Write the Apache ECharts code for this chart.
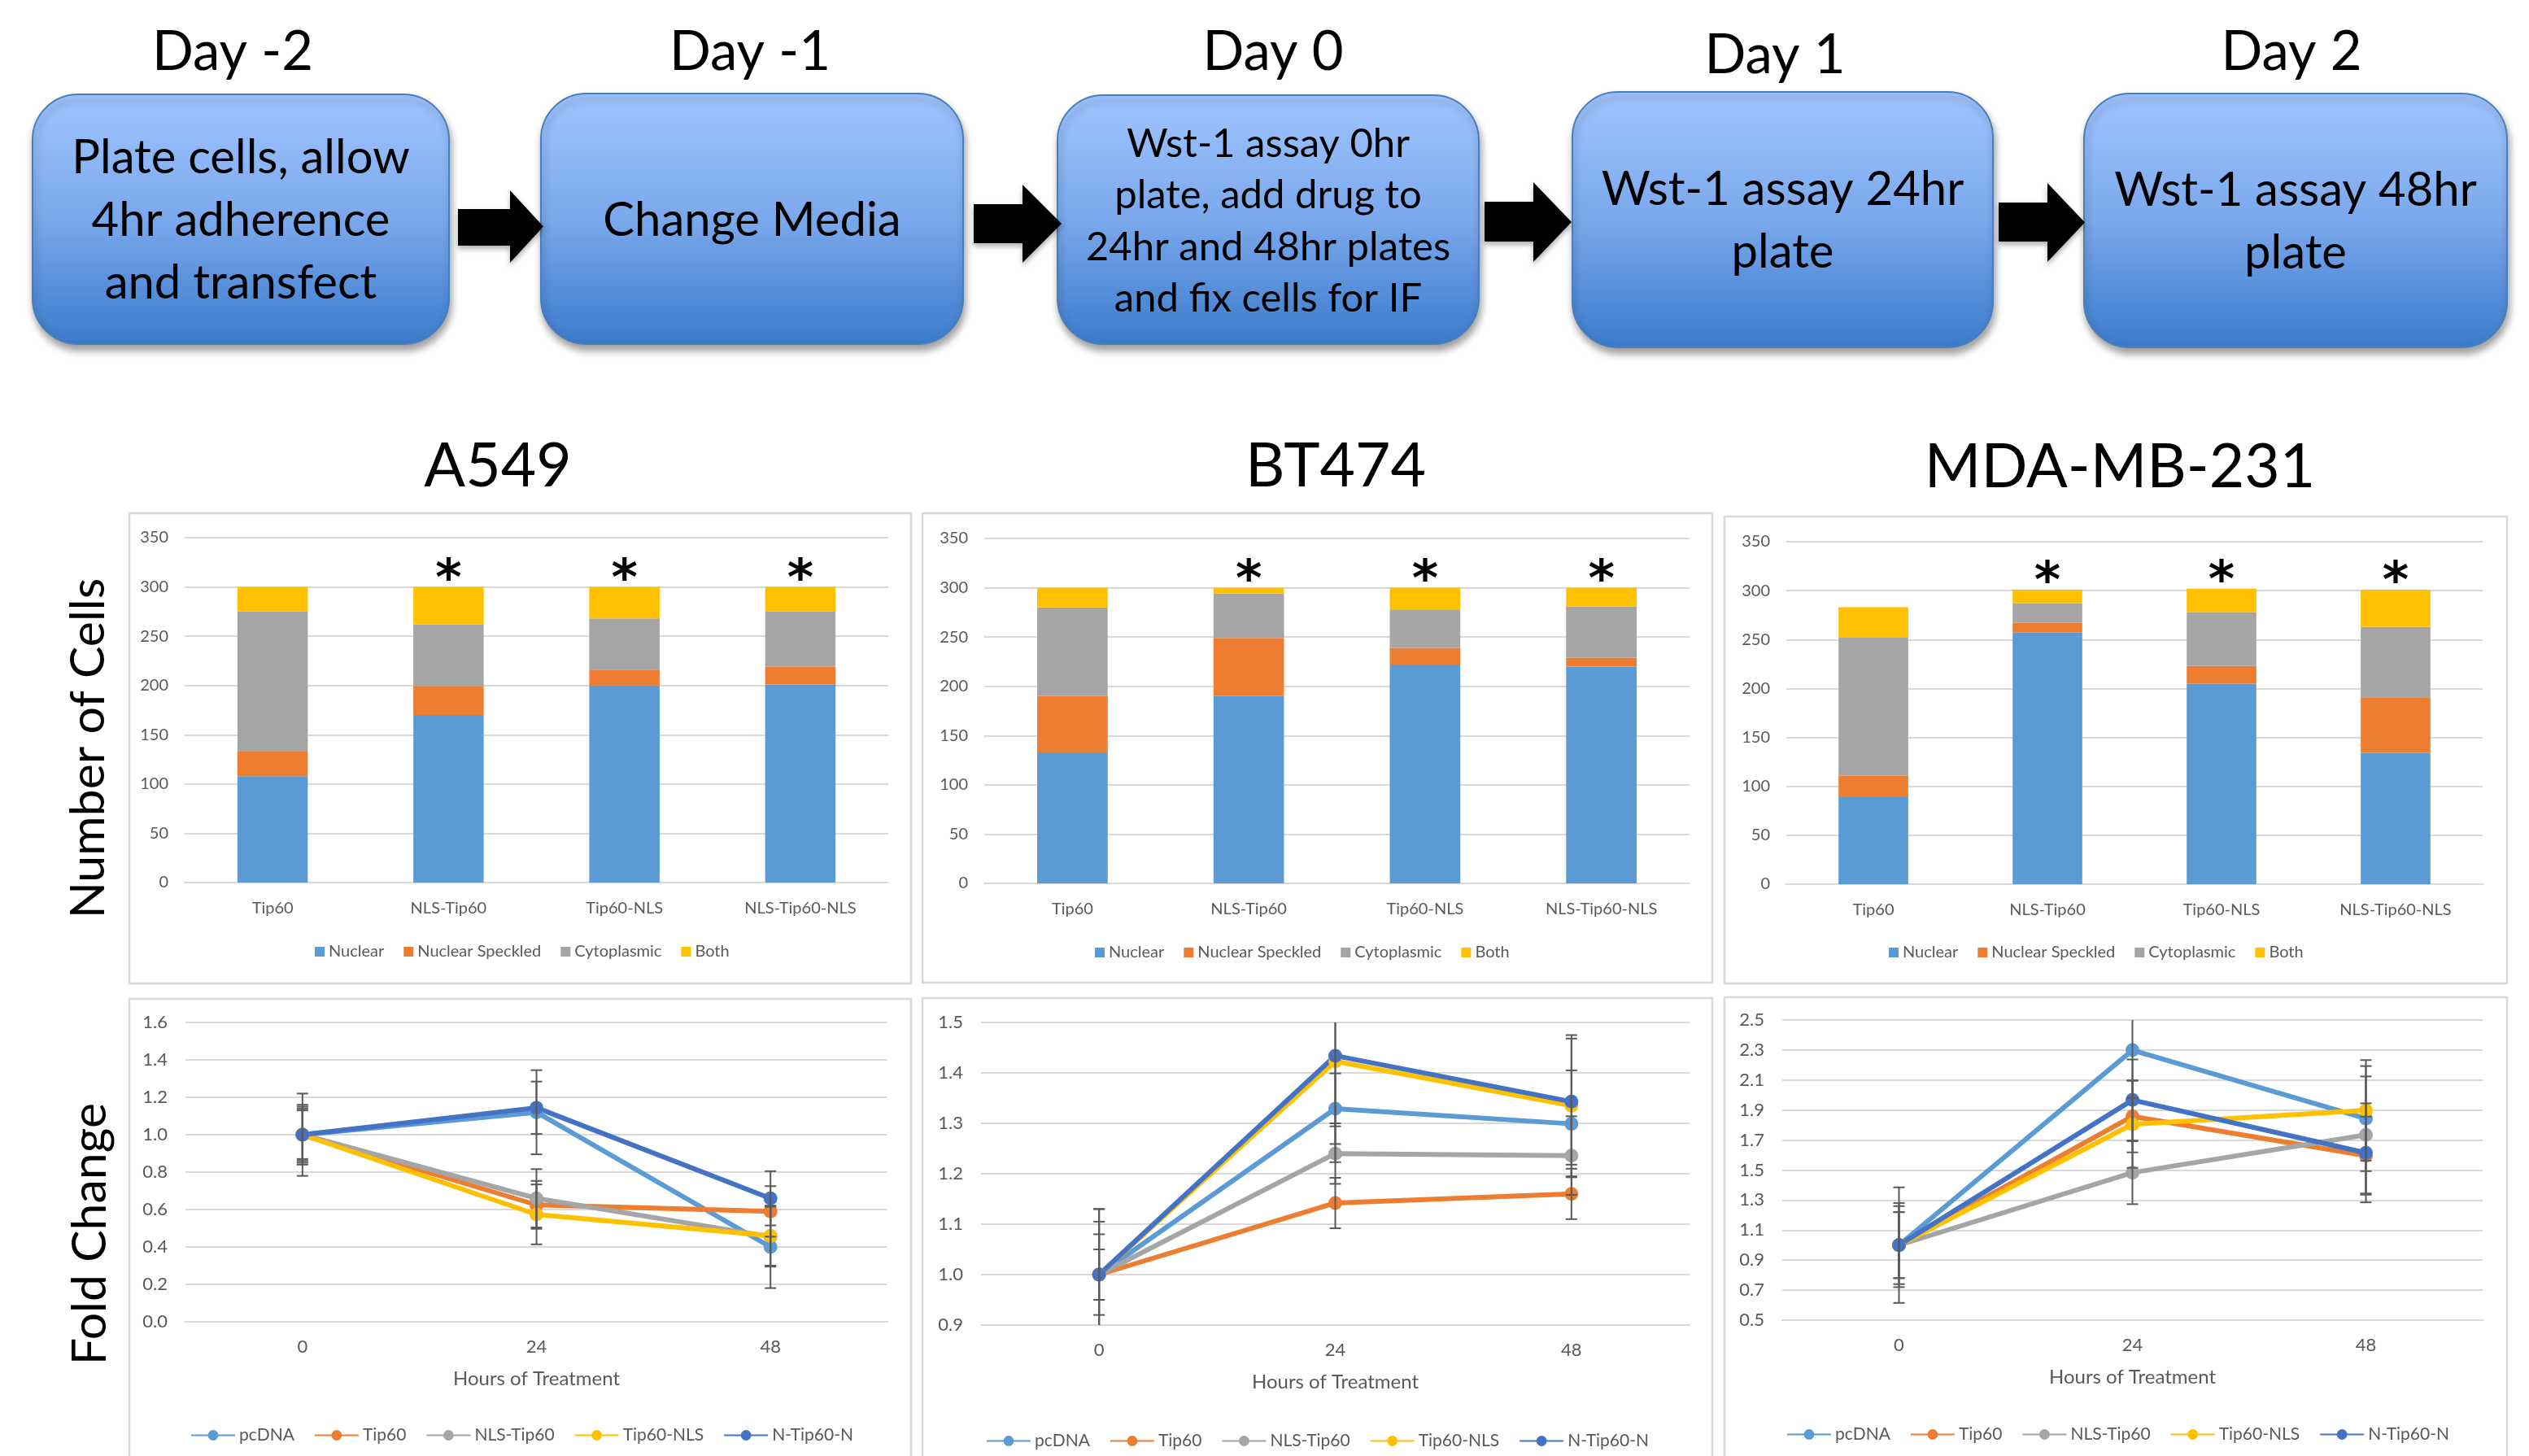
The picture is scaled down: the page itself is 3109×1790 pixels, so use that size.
<!DOCTYPE html>
<html>
<head>
<meta charset="utf-8">
<script src="https://cdn.jsdelivr.net/npm/echarts@6/dist/echarts.min.js"></script>
<style>
  html, body { margin: 0; padding: 0; background: #ffffff; }
  #chart { width: 3109px; height: 1790px; }
</style>
</head>
<body>
<div id="chart"></div>
<script>
// ---- Timeline steps ----
const dayLabels = ['Day -2', 'Day -1', 'Day 0', 'Day 1', 'Day 2'];
const stepTexts = [
  'Plate cells, allow\n4hr adherence\nand transfect',
  'Change Media',
  'Wst-1 assay 0hr\nplate, add drug to\n24hr and 48hr plates\nand fix cells for IF',
  'Wst-1 assay 24hr\nplate',
  'Wst-1 assay 48hr\nplate'
];

// ---- Cell lines and constructs ----
const cellLines = ['A549', 'BT474', 'MDA-MB-231'];
const constructs = ['Tip60', 'NLS-Tip60', 'Tip60-NLS', 'NLS-Tip60-NLS'];
const localizations = ['Nuclear', 'Nuclear Speckled', 'Cytoplasmic', 'Both'];
const significant = [false, true, true, true];

// Number of cells per localization class (stacked bars)
const a549Nuclear   = [108, 170, 200, 201];
const a549Speckled  = [25, 29, 16, 18];
const a549Cyto      = [142, 63, 52, 56];
const a549Both      = [25, 38, 32, 25];

const bt474Nuclear  = [133, 190, 222, 220];
const bt474Speckled = [57, 59, 17, 9];
const bt474Cyto     = [90, 45, 39, 52];
const bt474Both     = [20, 6, 22, 19];

const mdaNuclear    = [89, 257, 205, 134];
const mdaSpeckled   = [22, 10, 18, 57];
const mdaCyto       = [141, 20, 55, 72];
const mdaBoth       = [31, 14, 24, 38];

// ---- WST-1 fold change over time ----
const hours = ['0', '24', '48'];
const treatments = ['pcDNA', 'Tip60', 'NLS-Tip60', 'Tip60-NLS', 'N-Tip60-N'];

const a549Pcdna    = [1.00, 1.120, 0.400];
const a549Tip60    = [1.00, 0.625, 0.590];
const a549NlsTip60 = [1.00, 0.660, 0.455];
const a549Tip60Nls = [1.00, 0.574, 0.460];
const a549NTip60N  = [1.00, 1.144, 0.660];
const a549PcdnaErr    = [0.22, 0.225, 0.22];
const a549Tip60Err    = [0.16, 0.128, 0.135];
const a549NlsTip60Err = [0.15, 0.156, 0.16];
const a549Tip60NlsErr = [0.14, 0.16, 0.16];
const a549NTip60NErr  = [0.13, 0.14, 0.145];

const bt474Pcdna    = [1.00, 1.329, 1.299];
const bt474Tip60    = [1.00, 1.142, 1.160];
const bt474NlsTip60 = [1.00, 1.240, 1.236];
const bt474Tip60Nls = [1.00, 1.423, 1.335];
const bt474NTip60N  = [1.00, 1.434, 1.343];
const bt474PcdnaErr    = [0.13, 0.07, 0.106];
const bt474Tip60Err    = [0.05, 0.05, 0.05];
const bt474NlsTip60Err = [0.08, 0.06, 0.078];
const bt474Tip60NlsErr = [0.105, 0.20, 0.14];
const bt474NTip60NErr  = [0.13, 0.14, 0.125];

const mdaPcdna    = [1.00, 2.299, 1.843];
const mdaTip60    = [1.00, 1.858, 1.596];
const mdaNlsTip60 = [1.00, 1.483, 1.734];
const mdaTip60Nls = [1.00, 1.805, 1.898];
const mdaNTip60N  = [1.00, 1.967, 1.615];
const mdaPcdnaErr    = [0.385, 0.32, 0.35];
const mdaTip60Err    = [0.28, 0.24, 0.26];
const mdaNlsTip60Err = [0.26, 0.21, 0.39];
const mdaTip60NlsErr = [0.22, 0.29, 0.335];
const mdaNTip60NErr  = [0.22, 0.27, 0.33];

// Tick labels of the fold-change axes
const a549FoldTicks  = [0.0, 0.2, 0.4, 0.6, 0.8, 1.0, 1.2, 1.4, 1.6];
const bt474FoldTicks = [0.9, 1.0, 1.1, 1.2, 1.3, 1.4, 1.5];
const mdaFoldTicks   = [0.5, 0.7, 0.9, 1.1, 1.3, 1.5, 1.7, 1.9, 2.1, 2.3, 2.5];
const cellCountTicks = [0, 50, 100, 150, 200, 250, 300, 350];

// ---- Assemble per-panel structures ----
const barSets = [
  [a549Nuclear, a549Speckled, a549Cyto, a549Both],
  [bt474Nuclear, bt474Speckled, bt474Cyto, bt474Both],
  [mdaNuclear, mdaSpeckled, mdaCyto, mdaBoth]
];
const lineSets = [
  [a549Pcdna, a549Tip60, a549NlsTip60, a549Tip60Nls, a549NTip60N],
  [bt474Pcdna, bt474Tip60, bt474NlsTip60, bt474Tip60Nls, bt474NTip60N],
  [mdaPcdna, mdaTip60, mdaNlsTip60, mdaTip60Nls, mdaNTip60N]
];
const errSets = [
  [a549PcdnaErr, a549Tip60Err, a549NlsTip60Err, a549Tip60NlsErr, a549NTip60NErr],
  [bt474PcdnaErr, bt474Tip60Err, bt474NlsTip60Err, bt474Tip60NlsErr, bt474NTip60NErr],
  [mdaPcdnaErr, mdaTip60Err, mdaNlsTip60Err, mdaTip60NlsErr, mdaNTip60NErr]
];
const foldTicks = [a549FoldTicks, bt474FoldTicks, mdaFoldTicks];

// ---- Styling ----
const FONT = 'Lato, "Open Sans", sans-serif';
const TEXT_GRAY = '#595959';
const GRID_GRAY = '#d9d9d9';
const barColors = ['#5b9bd5', '#ed7d31', '#a5a5a5', '#ffc000'];
const lineColors = ['#5b9bd5', '#ed7d31', '#a5a5a5', '#ffc000', '#4472c4'];

// Plot areas
const barGrids = [
  { left: 227, top: 661, width: 865, height: 424 },
  { left: 1210, top: 662, width: 867, height: 424 },
  { left: 2196, top: 666, width: 856, height: 421 }
];
const lineGrids = [
  { left: 228, top: 1257, width: 863, height: 368 },
  { left: 1206, top: 1257, width: 871, height: 372 },
  { left: 2191, top: 1254, width: 861, height: 369 }
];
const barLegendPos  = [{ left: 387, top: 1160 }, { left: 1346, top: 1161 }, { left: 2322, top: 1161 }];
const lineLegendPos = [{ left: 234, top: 1754 }, { left: 1212, top: 1761 }, { left: 2196, top: 1753 }];
const panelFrames = [
  { x: 159, y: 631, w: 961, h: 578 },
  { x: 1134, y: 631, w: 971, h: 577 },
  { x: 2120, y: 635, w: 962, h: 574 },
  { x: 159, y: 1228, w: 961, h: 600 },
  { x: 1134, y: 1227, w: 971, h: 600 },
  { x: 2120, y: 1226, w: 962, h: 600 }
];

// ---- Grids and axes ----
const grids = [];
const xAxes = [];
const yAxes = [];
barGrids.forEach(g => {
  grids.push(Object.assign({ containLabel: false, outerBoundsMode: 'none' }, g));
});
lineGrids.forEach(g => {
  grids.push(Object.assign({ containLabel: false, outerBoundsMode: 'none' }, g));
});

for (let p = 0; p < 3; p++) {
  xAxes.push({
    type: 'category', gridIndex: p, data: constructs,
    axisLine: { show: true, lineStyle: { color: GRID_GRAY, width: 2 } },
    axisTick: { show: false },
    axisLabel: { color: TEXT_GRAY, fontFamily: FONT, fontSize: 20, margin: 22 }
  });
  yAxes.push({
    type: 'value', gridIndex: p,
    min: cellCountTicks[0], max: cellCountTicks[cellCountTicks.length - 1], interval: 50,
    axisLine: { show: false }, axisTick: { show: false },
    splitLine: { lineStyle: { color: GRID_GRAY, width: 2 } },
    axisLabel: { color: TEXT_GRAY, fontFamily: FONT, fontSize: 20, margin: 20 }
  });
}
for (let p = 0; p < 3; p++) {
  const ticks = foldTicks[p];
  xAxes.push({
    type: 'category', gridIndex: 3 + p, data: hours,
    axisLine: { show: true, lineStyle: { color: GRID_GRAY, width: 2 } },
    axisTick: { show: false },
    axisLabel: { color: TEXT_GRAY, fontFamily: FONT, fontSize: 22, margin: 20 },
    name: 'Hours of Treatment', nameLocation: 'middle', nameGap: 58,
    nameTextStyle: { color: TEXT_GRAY, fontFamily: FONT, fontSize: 24 }
  });
  yAxes.push({
    type: 'value', gridIndex: 3 + p,
    min: ticks[0], max: ticks[ticks.length - 1],
    axisLine: { show: false },
    axisTick: { show: false, customValues: ticks },
    splitLine: { lineStyle: { color: GRID_GRAY, width: 2 } },
    axisLabel: {
      customValues: ticks,
      color: TEXT_GRAY, fontFamily: FONT, fontSize: 22, margin: 22,
      formatter: v => Number(v).toFixed(1)
    }
  });
}

// ---- Series ----
const series = [];
for (let p = 0; p < 3; p++) {
  localizations.forEach((name, j) => {
    const s = {
      type: 'bar', name, xAxisIndex: p, yAxisIndex: p, stack: 'cells' + p,
      data: barSets[p][j], barCategoryGap: '60%',
      itemStyle: { color: barColors[j] },
      emphasis: { disabled: true }
    };
    if (j === localizations.length - 1) {
      // significance marker above each stacked column
      s.label = {
        show: true, position: 'top', distance: 0, offset: [0, 24],
        formatter: prm => (significant[prm.dataIndex] ? '*' : ''),
        color: '#000000', fontFamily: '"DejaVu Sans", sans-serif', fontWeight: 'bold', fontSize: 62
      };
    }
    series.push(s);
  });
}
for (let p = 0; p < 3; p++) {
  treatments.forEach((name, k) => {
    series.push({
      type: 'line', name, xAxisIndex: 3 + p, yAxisIndex: 3 + p,
      data: lineSets[p][k],
      symbol: 'circle', symbolSize: 17,
      lineStyle: { width: 6, color: lineColors[k] },
      itemStyle: { color: lineColors[k] },
      emphasis: { disabled: true }
    });
  });
}

// Error bars (mean ± error), clipped to the axis range like the plot area
function errorBarRenderer(lo, hi) {
  return function (params, api) {
    const x = api.value(0), m = api.value(1), e = api.value(2);
    const up = m + e, dn = m - e;
    const pTop = api.coord([x, Math.min(up, hi)]);
    const pBot = api.coord([x, Math.max(dn, lo)]);
    const cap = 7;
    const st = { stroke: '#5a5a5a', lineWidth: 2 };
    const children = [
      { type: 'line', shape: { x1: pTop[0], y1: pTop[1], x2: pBot[0], y2: pBot[1] }, style: st }
    ];
    if (up <= hi) children.push({ type: 'line', shape: { x1: pTop[0] - cap, y1: pTop[1], x2: pTop[0] + cap, y2: pTop[1] }, style: st });
    if (dn >= lo) children.push({ type: 'line', shape: { x1: pBot[0] - cap, y1: pBot[1], x2: pBot[0] + cap, y2: pBot[1] }, style: st });
    return { type: 'group', children };
  };
}
for (let p = 0; p < 3; p++) {
  const ticks = foldTicks[p];
  treatments.forEach((name, k) => {
    series.push({
      type: 'custom', name: name + ' error', xAxisIndex: 3 + p, yAxisIndex: 3 + p,
      data: hours.map((h, i) => [i, lineSets[p][k][i], errSets[p][k][i]]),
      renderItem: errorBarRenderer(ticks[0], ticks[ticks.length - 1]),
      z: 5, silent: true
    });
  });
}

// ---- Legends ----
const legends = [];
for (let p = 0; p < 3; p++) {
  legends.push(Object.assign({
    data: localizations, orient: 'horizontal', padding: 0,
    icon: 'rect', itemWidth: 12, itemHeight: 12, itemGap: 24,
    textStyle: { color: TEXT_GRAY, fontFamily: FONT, fontSize: 20 },
    selectedMode: false
  }, barLegendPos[p]));
  legends.push(Object.assign({
    data: treatments, orient: 'horizontal', padding: 0,
    itemWidth: 54, itemHeight: 16, itemGap: 24,
    textStyle: { color: TEXT_GRAY, fontFamily: FONT, fontSize: 21 },
    selectedMode: false
  }, lineLegendPos[p]));
}

// ---- Timeline, titles and frames ----
const graphics = [];
const stepBoxes = [
  { x: 40, y: 116, w: 512, h: 307 },
  { x: 665, y: 115, w: 519, h: 308 },
  { x: 1300, y: 117, w: 518, h: 306 },
  { x: 1933, y: 113, w: 517, h: 314 },
  { x: 2562, y: 115, w: 520, h: 312 }
];
const dayLabelPos = [[286, 64], [922, 64], [1565, 64], [2182, 68], [2817, 64]];
const stepTextStyle = [
  { size: 58, lh: 77 }, { size: 58, lh: 77 }, { size: 49, lh: 63.5 }, { size: 58, lh: 77 }, { size: 58, lh: 77 }
];
const arrows = [
  [563, 627, 257, 302, 234, 323, 668],
  [1197, 1257, 251, 299, 227, 323, 1305],
  [1825, 1885, 248, 297, 224, 322, 1932],
  [2457, 2517, 249, 297, 225, 322, 2563]
];

stepBoxes.forEach((b, i) => {
  graphics.push({
    type: 'rect', shape: { x: b.x, y: b.y, width: b.w, height: b.h, r: 56 },
    style: {
      fill: new echarts.graphic.LinearGradient(0, 0, 0, 1, [
        { offset: 0, color: '#a1c5ff' },
        { offset: 0.5, color: '#7aa8ec' },
        { offset: 1, color: '#3b7bcb' }
      ]),
      stroke: '#4a7ebb', lineWidth: 2,
      shadowColor: 'rgba(0,0,0,0.38)', shadowBlur: 10, shadowOffsetX: 2, shadowOffsetY: 7
    },
    z: 1
  });
  graphics.push({
    type: 'text', x: b.x + b.w / 2, y: b.y + b.h / 2 + 2,
    style: {
      text: stepTexts[i], fill: '#000000', fontFamily: FONT, fontSize: stepTextStyle[i].size,
      lineHeight: stepTextStyle[i].lh, align: 'center', verticalAlign: 'middle'
    },
    z: 3
  });
  graphics.push({
    type: 'text', x: dayLabelPos[i][0], y: dayLabelPos[i][1],
    style: {
      text: dayLabels[i], fill: '#000000', fontFamily: FONT, fontSize: 67,
      align: 'center', verticalAlign: 'middle'
    },
    z: 3
  });
});
arrows.forEach(a => {
  const [x0, x1, s0, s1, h0, h1, tip] = a;
  const yc = (h0 + h1) / 2;
  graphics.push({
    type: 'polygon',
    shape: { points: [[x0, s0], [x1, s0], [x1, h0], [tip, yc], [x1, h1], [x1, s1], [x0, s1]] },
    style: { fill: '#000000', shadowColor: 'rgba(0,0,0,0.3)', shadowBlur: 6, shadowOffsetY: 4 },
    z: 2
  });
});

const cellTitlePos = [[612, 574], [1642, 574], [2606, 575]];
cellLines.forEach((name, i) => {
  graphics.push({
    type: 'text', x: cellTitlePos[i][0], y: cellTitlePos[i][1],
    style: { text: name, fill: '#000000', fontFamily: FONT, fontSize: 75, align: 'center', verticalAlign: 'middle' },
    z: 3
  });
});

graphics.push({
  type: 'text', x: 109, y: 920, rotation: Math.PI / 2,
  style: { text: 'Number of Cells', fill: '#000000', fontFamily: FONT, fontSize: 59, align: 'center', verticalAlign: 'middle' },
  z: 3
});
graphics.push({
  type: 'text', x: 111, y: 1517, rotation: Math.PI / 2,
  style: { text: 'Fold Change', fill: '#000000', fontFamily: FONT, fontSize: 59, align: 'center', verticalAlign: 'middle' },
  z: 3
});

panelFrames.forEach(f => {
  graphics.push({
    type: 'rect', shape: { x: f.x, y: f.y, width: f.w, height: f.h },
    style: { fill: 'none', stroke: GRID_GRAY, lineWidth: 2.5 },
    z: 0
  });
});

const chart = echarts.init(document.getElementById('chart'), null, { renderer: 'canvas' });
chart.setOption({
  backgroundColor: '#ffffff',
  animation: false,
  grid: grids,
  xAxis: xAxes,
  yAxis: yAxes,
  legend: legends,
  series,
  graphic: { elements: graphics }
});
</script>
</body>
</html>
